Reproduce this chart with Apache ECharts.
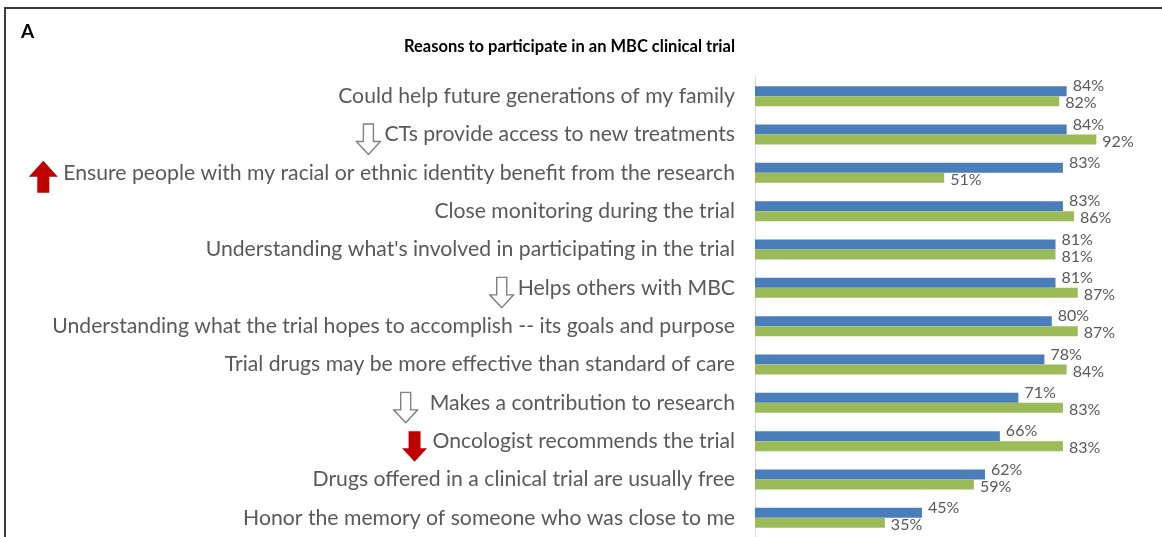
<!DOCTYPE html>
<html>
<head>
<meta charset="utf-8">
<script src="https://cdn.jsdelivr.net/npm/echarts@6/dist/echarts.min.js"></script>
<style>
html,body{margin:0;padding:0;background:#fff;}
#chart{width:1162px;height:537px;}
</style>
</head>
<body>
<div id="chart"></div>
<script>
const categories = [
  "Could help future generations of my family",
  "CTs provide access to new treatments",
  "Ensure people with my racial or ethnic identity benefit from the research",
  "Close monitoring during the trial",
  "Understanding what's involved in participating in the trial",
  "Helps others with MBC",
  "Understanding what the trial hopes to accomplish -- its goals and purpose",
  "Trial drugs may be more effective than standard of care",
  "Makes a contribution to research",
  "Oncologist recommends the trial",
  "Drugs offered in a clinical trial are usually free",
  "Honor the memory of someone who was close to me"
];
const blueValues  = [84, 84, 83, 83, 81, 81, 80, 78, 71, 66, 62, 45];
const greenValues = [82, 92, 51, 86, 81, 87, 87, 84, 83, 83, 59, 35];
const markers = ["", "hollow", "redUp", "", "", "hollow", "", "", "hollowWide", "redDown", "", ""];

function svgUri(s){ return 'data:image/svg+xml;charset=utf-8,' + encodeURIComponent(s); }
const hollowImg = svgUri('<svg xmlns="http://www.w3.org/2000/svg" width="26" height="42" viewBox="0 0 26 42"><path d="M8,10.5 H18 V28 H25 L13,41 L1,28 H8 Z" fill="#ffffff" stroke="#7f7f7f" stroke-width="1.4"/></svg>');
const redDownImg = svgUri('<svg xmlns="http://www.w3.org/2000/svg" width="26" height="42" viewBox="0 0 26 42"><path d="M7,11 H19 V28 H25.5 L13,41.5 L0.5,28 H7 Z" fill="#c00000"/></svg>');
const redUpImg = svgUri('<svg xmlns="http://www.w3.org/2000/svg" width="30" height="42" viewBox="0 0 30 42"><path d="M9,41 H21 V25 H29.5 L15,9 L0.5,25 H9 Z" fill="#c00000"/></svg>');

const chart = echarts.init(document.getElementById('chart'));
const FONT = 'Lato';
chart.setOption({
  animation: false,
  backgroundColor: '#ffffff',
  title: [
    { text: 'A', left: 16, top: 17, textStyle: { fontFamily: FONT, fontWeight: 'bold', fontSize: 19, color: '#000' } },
    { text: 'Reasons to participate in an MBC clinical trial', left: 399, top: 33,
      textStyle: { fontFamily: FONT, fontWeight: 'bold', fontSize: 16.5, color: '#000' } }
  ],
  graphic: [
    { type: 'polyline', shape: { points: [[5, 537], [5, 8], [1162, 8]] }, style: { stroke: '#3a3a3a', lineWidth: 2, fill: null }, silent: true }
  ],
  grid: { left: 755, right: 36, top: 77, bottom: 0, containLabel: false },
  xAxis: { type: 'value', min: 0, max: 100, show: false, splitLine: { show: false } },
  yAxis: {
    type: 'category', data: categories, inverse: true,
    axisLine: { show: true, lineStyle: { color: '#d9d9d9', width: 1 } },
    axisTick: { show: false },
    axisLabel: {
      margin: 20,
      formatter: function (v, i) {
        const m = markers[i];
        if (!m) return '{t|' + v + '}';
        if (m === 'hollow') return '{hollow| }{sp3| }{t|' + v + '}';
        if (m === 'hollowWide') return '{hollow| }{sp11| }{t|' + v + '}';
        return '{' + m + '| }{sp5| }{t|' + v + '}';
      },
      rich: {
        t: { fontFamily: FONT, fontSize: 21.2, color: '#595959' },
        sp3: { width: 3, fontSize: 21 },
        sp5: { width: 5, fontSize: 21 },
        sp11: { width: 11, fontSize: 21 },
        hollow: { width: 26, height: 42, backgroundColor: { image: hollowImg } },
        redDown: { width: 26, height: 42, backgroundColor: { image: redDownImg } },
        redUp: { width: 30, height: 42, backgroundColor: { image: redUpImg } }
      }
    }
  },
  series: [
    {
      type: 'bar', data: blueValues, barWidth: 10, barGap: '0%',
      itemStyle: { color: '#4a7ebb' },
      label: { show: true, position: 'right', distance: 6, offset: [0, -5], formatter: '{c}%',
        fontFamily: FONT, fontSize: 16, color: '#595959' }
    },
    {
      type: 'bar', data: greenValues, barWidth: 10,
      itemStyle: { color: '#9bbb59' },
      label: { show: true, position: 'right', distance: 6, offset: [0, 2], formatter: '{c}%',
        fontFamily: FONT, fontSize: 16, color: '#595959' }
    }
  ]
});
</script>
</body>
</html>
